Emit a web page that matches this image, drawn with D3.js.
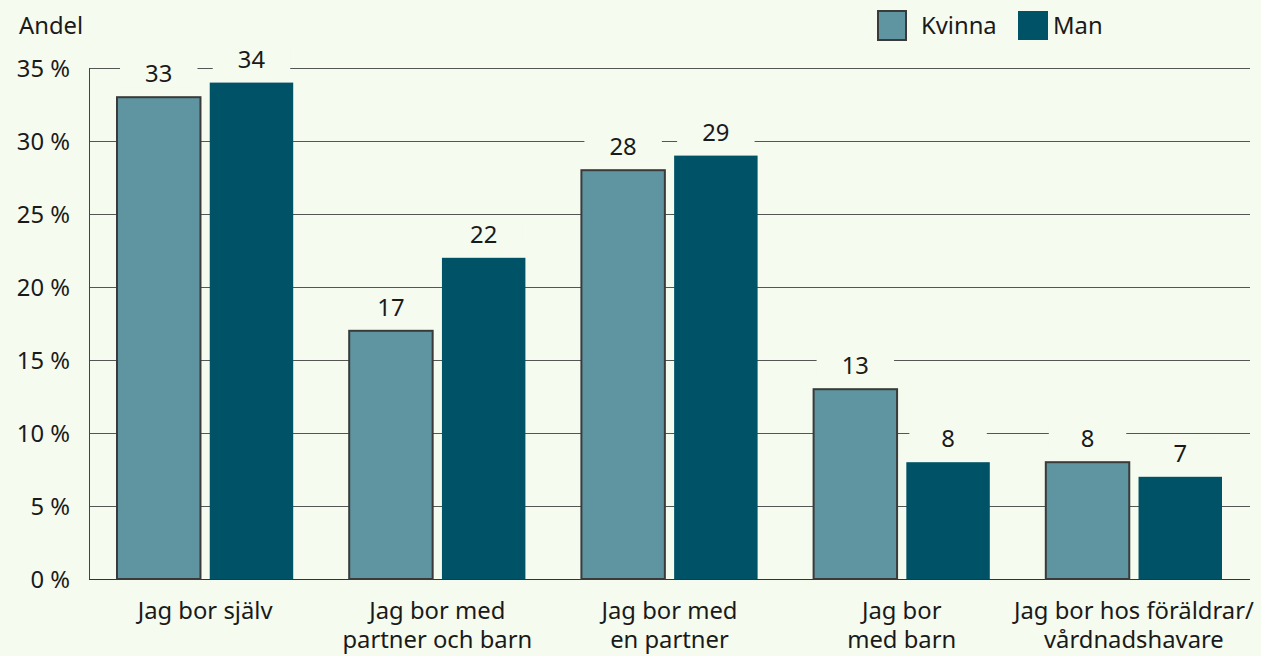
<!DOCTYPE html>
<html>
<head>
<meta charset="utf-8">
<script src="https://cdn.jsdelivr.net/npm/d3@7"></script>
<style>
  html, body { margin: 0; padding: 0; background: #f5fbef; }
  svg text { font-family: "Noto Sans", sans-serif; fill: #1a1a1a; }
</style>
</head>
<body>
<div id="chart"></div>
<script>
var categories = [
  ["Jag bor själv"],
  ["Jag bor med", "partner och barn"],
  ["Jag bor med", "en partner"],
  ["Jag bor", "med barn"],
  ["Jag bor hos föräldrar/", "vårdnadshavare"]
]
var series = ["Kvinna", "Man"]
var kvinna = [33, 17, 28, 13, 8]
var man = [34, 22, 29, 8, 7]
var yTicks = [0, 5, 10, 15, 20, 25, 30, 35]

var colors = { Kvinna: "#5e95a0", Man: "#005266" }
var fs = "23.8px"

function drawChart(target) { //{{{
  var W = 1261, H = 656
  var margin = { top: 68, right: 11, bottom: 77, left: 89 }
  var width = W - margin.left - margin.right,
      height = H - margin.top - margin.bottom

  var keys = categories.map(c => c.join(" "))
  var data = keys.map((k, i) => ({ key: k, lines: categories[i], values: [
    { s: "Kvinna", v: kvinna[i] }, { s: "Man", v: man[i] } ] }))

  var x0 = d3.scaleBand().domain(keys).range([0, width]).padding(0)
  var x1 = d3.scaleBand().domain(series)
    .range([28, x0.bandwidth() - 28]).paddingInner(0.1)
  var y = d3.scaleLinear().domain([0, 35]).range([height, 0])

  var svg = d3.select(target).append("svg")
    .attr("width", W).attr("height", H)
  var g = svg.append("g")
    .attr("transform", "translate(" + margin.left + "," + margin.top + ")")

  // gridlines
  g.append("g").selectAll("line")
    .data(yTicks)
    .enter().append("line")
      .attr("x1", 0).attr("x2", width)
      .attr("y1", d => Math.round(y(d)) + 0.5).attr("y2", d => Math.round(y(d)) + 0.5)
      .attr("stroke", d => d == 0 ? "#333" : "#555")
      .attr("stroke-width", 1)

  // y axis
  var yAxis = g.append("g")
    .call(d3.axisLeft(y).tickValues(yTicks).tickSize(0).tickPadding(19)
      .tickFormat(d => d + " %"))
  yAxis.select(".domain").remove()
  yAxis.selectAll("text").style("font-size", fs).attr("dy", "0.35em")
    .style("font-family", "'Noto Sans', sans-serif").attr("fill", "#1a1a1a")
  g.append("line")
    .attr("x1", 0.5).attr("x2", 0.5).attr("y1", 0).attr("y2", height)
    .attr("stroke", "#444")

  // bars
  var groups = g.selectAll(".grp")
    .data(data)
    .enter().append("g")
      .attr("class", "grp")
      .attr("transform", d => "translate(" + x0(d.key) + ",0)")

  groups.selectAll("rect.bar")
    .data(d => d.values)
    .enter().append("rect")
      .attr("class", "bar")
      .attr("x", d => x1(d.s))
      .attr("y", d => y(d.v))
      .attr("width", x1.bandwidth())
      .attr("height", d => height - y(d.v))
      .attr("fill", d => colors[d.s])
      .attr("stroke", d => d.s == "Kvinna" ? "#3a3a3a" : "none")
      .attr("stroke-width", 2)

  // value labels with background
  var lbl = groups.selectAll("g.lbl")
    .data(d => d.values)
    .enter().append("g")
      .attr("class", "lbl")
  lbl.append("rect")
    .attr("x", d => x1(d.s) + 3)
    .attr("y", d => y(d.v) - 38)
    .attr("width", x1.bandwidth() - 6)
    .attr("height", 28)
    .attr("fill", "#f5fbef")
  lbl.append("text")
    .attr("x", d => x1(d.s) + x1.bandwidth() / 2)
    .attr("y", d => y(d.v) - 15)
    .attr("text-anchor", "middle")
    .style("font-size", fs)
    .text(d => d.v)

  // category labels
  var cl = groups.append("text")
    .attr("text-anchor", "middle")
    .style("font-size", fs)
  cl.selectAll("tspan")
    .data(d => d.lines)
    .enter().append("tspan")
      .attr("x", x0.bandwidth() / 2)
      .attr("y", (d, i) => height + 40 + i * 29)
      .text(d => d)

  // y label
  svg.append("text")
    .attr("x", 19).attr("y", 34)
    .style("font-size", fs)
    .text("Andel")

  // legend
  var legend = svg.append("g")
  var lx = [878, 1018]
  series.forEach((s, i) => {
    legend.append("rect")
      .attr("x", lx[i]).attr("y", 11)
      .attr("width", s == "Kvinna" ? 28 : 30).attr("height", 29)
      .attr("fill", colors[s])
      .attr("stroke", s == "Kvinna" ? "#3a3a3a" : "none")
      .attr("stroke-width", 2)
    legend.append("text")
      .attr("x", lx[i] + (s == "Kvinna" ? 43 : 35)).attr("y", 34)
      .style("font-size", fs)
      .text(s)
  })
} //}}}

drawChart("#chart")
</script>
</body>
</html>
